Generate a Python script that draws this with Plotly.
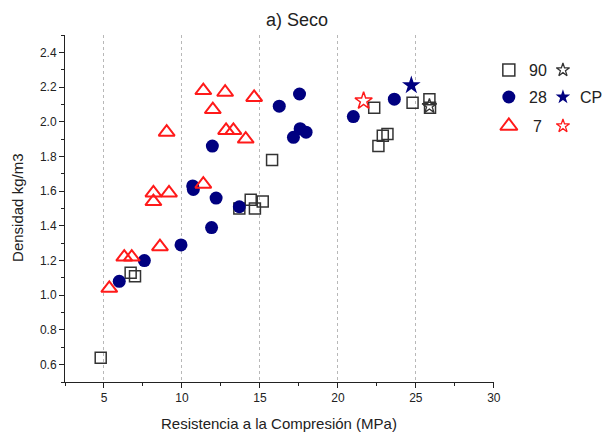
import plotly.graph_objects as go

# ---- data ----
d90_x = [22.33, 24.79, 25.87, 25.91, 23.18, 22.88, 22.60, 15.78, 14.41, 15.18, 14.68, 13.68, 6.71, 6.99, 4.79]
d90_y = [2.08, 2.11, 2.13, 2.08, 1.93, 1.92, 1.86, 1.78, 1.55, 1.54, 1.50, 1.50, 1.13, 1.11, 0.64]

d28_x = [17.54, 16.24, 17.58, 17.96, 17.15, 11.95, 10.69, 10.73, 12.19, 13.68, 11.90, 9.94, 7.59, 5.98, 20.99, 23.62]
d28_y = [2.16, 2.09, 1.96, 1.94, 1.91, 1.86, 1.63, 1.61, 1.56, 1.51, 1.39, 1.29, 1.20, 1.08, 2.03, 2.13]

d7_x = [11.37, 12.77, 14.63, 11.98, 9.02, 12.83, 13.30, 14.09, 11.37, 8.17, 9.17, 8.17, 8.59, 6.30, 6.78, 5.34]
d7_y = [2.18, 2.17, 2.14, 2.07, 1.94, 1.95, 1.95, 1.90, 1.64, 1.59, 1.59, 1.54, 1.28, 1.22, 1.22, 1.04]

cp90_x, cp90_y = [25.87], [2.09]
cp28_x, cp28_y = [24.71], [2.21]
cp7_x, cp7_y = [21.65], [2.12]

legend_labels = ["90", "28", "7"]
cp_label = "CP"

NAVY = "#000080"
RED = "#ff1a1a"
BLK = "#333333"
FONT = "Liberation Sans, Arial, sans-serif"

W, H = 602, 432
W_EFF = 594  # width the page actually lays the figure out at
L, R, T, B = 65, 0, 35, 50
PW, PH = W_EFF - L - R, H - T - B
PLOT_RIGHT = 493


def px(xp):
    return (xp - L) / PW


def py(yp):
    return 1 - (yp - T) / PH


fig = go.Figure()

fig.add_trace(go.Scatter(x=d90_x, y=d90_y, mode="markers",
                         marker=dict(symbol="square-open", size=11, color=BLK, line=dict(width=1.5)),
                         showlegend=False))
fig.add_trace(go.Scatter(x=d28_x, y=d28_y, mode="markers",
                         marker=dict(symbol="circle", size=13, color=NAVY, line=dict(width=0)),
                         showlegend=False))
fig.add_trace(go.Scatter(x=d7_x, y=d7_y, mode="markers",
                         marker=dict(symbol="triangle-up-open", size=14, color=RED, line=dict(width=2)),
                         showlegend=False))
fig.add_trace(go.Scatter(x=cp90_x, y=cp90_y, mode="markers",
                         marker=dict(symbol="star-open", size=11, color=BLK, line=dict(width=1.3)),
                         showlegend=False))
fig.add_trace(go.Scatter(x=cp28_x, y=cp28_y, mode="markers",
                         marker=dict(symbol="star", size=14, color=NAVY, line=dict(width=0)),
                         showlegend=False))
fig.add_trace(go.Scatter(x=cp7_x, y=cp7_y, mode="markers",
                         marker=dict(symbol="star-open", size=13, color=RED, line=dict(width=1.5)),
                         showlegend=False))

# ---- custom grid legend on a hidden pixel-scaled axis ----
lx0, lx1, ly0, ly1 = 495, W_EFF, 55, 140
leg_rows = [70, 97, 126]
sym_x, lab_x, star_x = 508, 537, 562
fig.add_trace(go.Scatter(x=[sym_x], y=[leg_rows[0]], xaxis="x2", yaxis="y2", mode="markers",
                         marker=dict(symbol="square-open", size=12, color=BLK, line=dict(width=1.5)), showlegend=False))
fig.add_trace(go.Scatter(x=[sym_x], y=[leg_rows[1]], xaxis="x2", yaxis="y2", mode="markers",
                         marker=dict(symbol="circle", size=13, color=NAVY), showlegend=False))
fig.add_trace(go.Scatter(x=[sym_x], y=[leg_rows[2]], xaxis="x2", yaxis="y2", mode="markers",
                         marker=dict(symbol="triangle-up-open", size=15, color=RED, line=dict(width=2)), showlegend=False))
fig.add_trace(go.Scatter(x=[star_x], y=[leg_rows[0]], xaxis="x2", yaxis="y2", mode="markers",
                         marker=dict(symbol="star-open", size=10, color=BLK, line=dict(width=1.3)), showlegend=False))
fig.add_trace(go.Scatter(x=[star_x], y=[leg_rows[1]], xaxis="x2", yaxis="y2", mode="markers",
                         marker=dict(symbol="star", size=11, color=NAVY), showlegend=False))
fig.add_trace(go.Scatter(x=[star_x], y=[leg_rows[2]], xaxis="x2", yaxis="y2", mode="markers",
                         marker=dict(symbol="star-open", size=10, color=RED, line=dict(width=1.3)), showlegend=False))

annotations = []
for lab, yy in zip(legend_labels, leg_rows):
    annotations.append(dict(x=lab_x, y=yy, xref="x2", yref="y2", text=lab, showarrow=False,
                            font=dict(family=FONT, size=16, color="#222"), xanchor="center", yanchor="middle"))
annotations.append(dict(x=577, y=leg_rows[1], xref="x2", yref="y2", text=cp_label, showarrow=False,
                        font=dict(family=FONT, size=16, color="#222"), xanchor="left", yanchor="middle"))

# titles
annotations.append(dict(x=px(297), y=py(20), xref="paper", yref="paper", text="a) Seco", showarrow=False,
                        font=dict(family=FONT, size=18, color="#222"), xanchor="center", yanchor="middle"))
annotations.append(dict(x=px(279), y=py(423), xref="paper", yref="paper",
                        text="Resistencia a la Compresión (MPa)", showarrow=False,
                        font=dict(family=FONT, size=15, color="#222"), xanchor="center", yanchor="middle"))
annotations.append(dict(x=px(17), y=py(208), xref="paper", yref="paper", text="Densidad kg/m3",
                        showarrow=False, textangle=-90,
                        font=dict(family=FONT, size=15, color="#222"), xanchor="center", yanchor="middle"))

fig.update_layout(
    width=W, height=H,
    margin=dict(l=L, r=R, t=T, b=B, pad=0),
    paper_bgcolor="white", plot_bgcolor="white",
    font=dict(family=FONT, size=12, color="#222"),
    annotations=annotations,
    xaxis=dict(domain=[0, px(PLOT_RIGHT)], range=[2.5, 30], dtick=5, tick0=0, showline=True,
               linecolor="#222", linewidth=1,
               ticks="outside", ticklen=5, tickcolor="#222", tickwidth=1,
               minor=dict(dtick=2.5, tick0=0, ticks="outside", ticklen=3, tickcolor="#222", showgrid=False),
               showgrid=True, gridcolor="#b8b8b8", griddash="dot", gridwidth=1, zeroline=False,
               mirror=False, tickfont=dict(size=12, color="#222"), fixedrange=True),
    yaxis=dict(range=[0.5, 2.5], dtick=0.2, tick0=0, tickformat=".1f", showline=True, linecolor="#222",
               linewidth=1, ticks="outside", ticklen=5, tickcolor="#222", tickwidth=1,
               minor=dict(dtick=0.1, tick0=0, ticks="outside", ticklen=3, tickcolor="#222", showgrid=False),
               showgrid=False, zeroline=False, tickfont=dict(size=12, color="#222"), fixedrange=True),
    xaxis2=dict(domain=[px(lx0), px(lx1)], range=[lx0, lx1], visible=False, anchor="y2", fixedrange=True),
    yaxis2=dict(domain=[py(ly1), py(ly0)], range=[ly1, ly0], visible=False, anchor="x2", fixedrange=True),
)

fig.write_html("out.html")
